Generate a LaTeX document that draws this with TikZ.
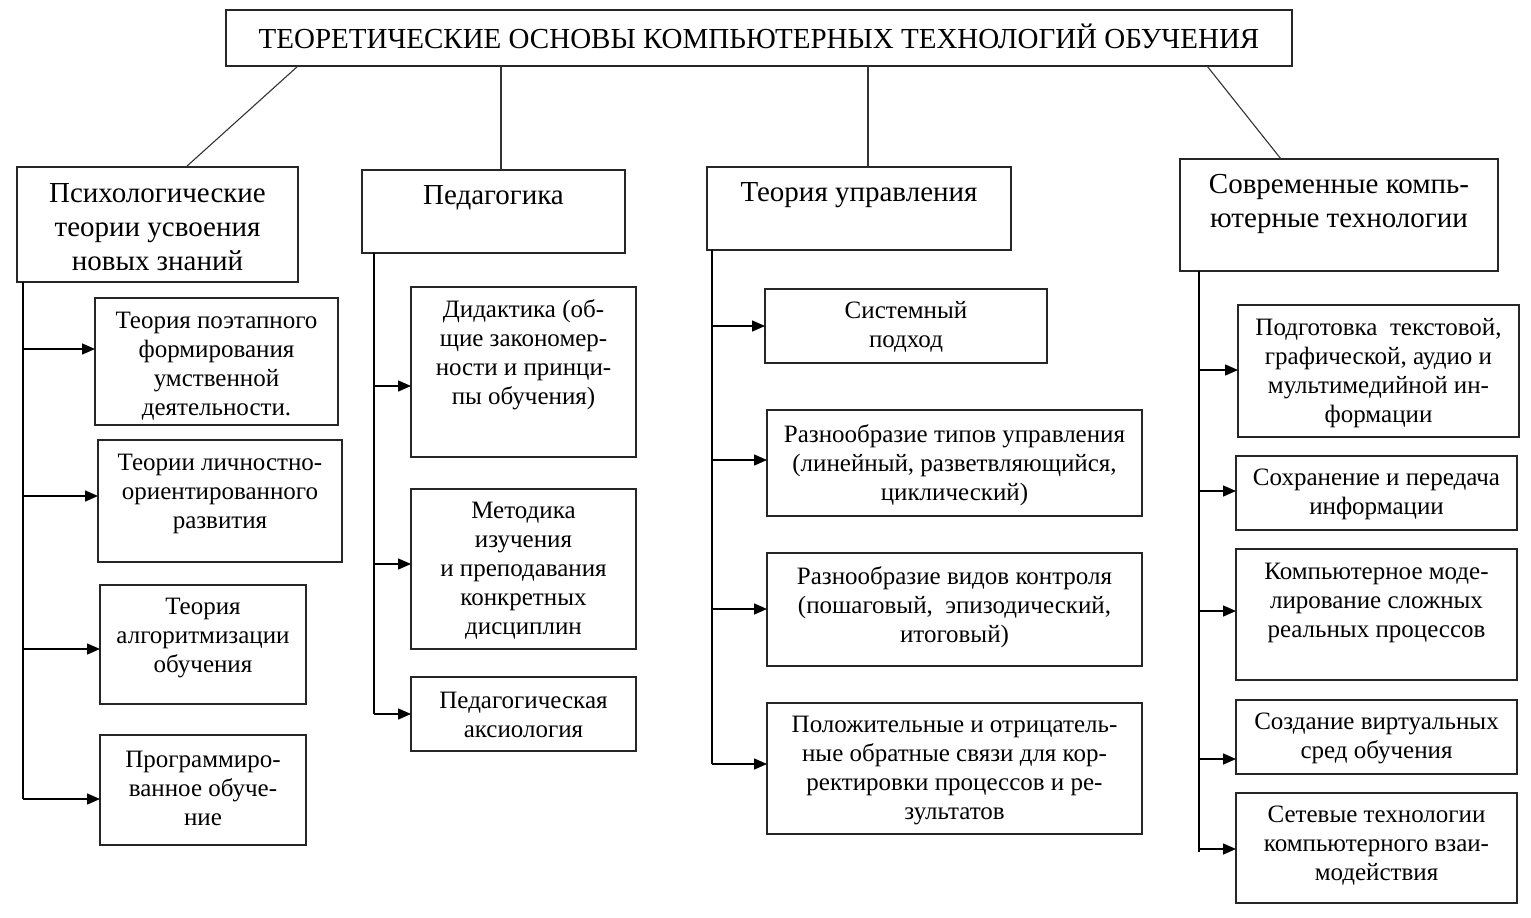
\documentclass[tikz,border=0pt]{standalone}
\usepackage{fontspec}
\setmainfont{Liberation Serif}
\usetikzlibrary{arrows.meta}
\newcommand\bxx[8]{%
  \node[boxst, minimum width={#5-#3}, minimum height={#6-#4}] (#2) at ({(#3+#5)/2},{(#4+#6)/2}) {};
  \node[#1] (#2t) at ({(#3+#5)/2},#7) {#8};}
\begin{document}
\begin{tikzpicture}[x=1pt,y=-1pt,
  boxst/.style={draw=black!85, line width=1.3pt, rectangle, inner sep=0pt, outer sep=0pt},
  txt/.style={align=center, inner sep=0pt, font=\fontsize{25}{29}\selectfont},
  htxt/.style={align=center, inner sep=0pt, font=\fontsize{29}{34}\selectfont},
  ttxt/.style={align=center, inner sep=0pt, font=\fontsize{29}{32}\selectfont},
  ln/.style={line width=1.1pt, black!80},
  trunk/.style={line width=1.4pt, black},
  arr/.style={line width=1.5pt, black, -{Triangle[length=13pt,width=11pt]}}]
\useasboundingbox (0,0) rectangle (1531,918);

% title
\bxx{ttxt}{title}{226}{10}{1292}{66}{36}{ТЕОРЕТИЧЕСКИЕ ОСНОВЫ КОМПЬЮТЕРНЫХ ТЕХНОЛОГИЙ ОБУЧЕНИЯ}

% headers
\bxx{htxt}{h1}{17}{167}{298}{282}{227}{Психологические\\теории усвоения\\новых знаний}
\bxx{htxt}{h2}{362}{170}{625}{253}{198}{Педагогика}
\bxx{htxt}{h3}{707}{167}{1011}{250}{195}{Теория управления}
\bxx{htxt}{h4}{1180}{159}{1498}{271}{204}{Современные компь-\\ютерные технологии}

% column 1
\bxx{txt}{c1a}{95}{298}{338}{425}{366}{Теория поэтапного\\формирования\\умственной\\деятельности.}
\bxx{txt}{c1b}{98}{440}{342}{562}{494}{Теории личностно-\\ориентированного\\развития}
\bxx{txt}{c1c}{100}{585}{306}{704}{638}{Теория\\алгоритмизации\\обучения}
\bxx{txt}{c1d}{100}{735}{306}{845}{788}{Программиро-\\ванное обуче-\\ние}

% column 2
\bxx{txt}{c2a}{411}{287}{636}{457}{355}{Дидактика (об-\\щие закономер-\\ности и принци-\\пы обучения)}
\bxx{txt}{c2b}{411}{489}{636}{649}{571}{Методика\\изучения\\и преподавания\\конкретных\\дисциплин}
\bxx{txt}{c2c}{411}{677}{636}{751}{715}{Педагогическая\\аксиология}

% column 3
\bxx{txt}{c3a}{765}{289}{1047}{363}{327}{Системный\\подход}
\bxx{txt}{c3b}{767}{410}{1142}{516}{465}{Разнообразие типов управления\\(линейный, разветвляющийся,\\циклический)}
\bxx{txt}{c3c}{767}{553}{1142}{666}{607}{Разнообразие видов контроля\\(пошаговый,\ \ эпизодический,\\итоговый)}
\bxx{txt}{c3d}{767}{703}{1142}{834}{771}{Положительные и отрицатель-\\ные обратные связи для кор-\\ректировки процессов и ре-\\зультатов}

% column 4
\bxx{txt}{c4a}{1238}{305}{1519}{437}{373}{Подготовка\ \ текстовой,\\графической, аудио и\\мультимедийной ин-\\формации}
\bxx{txt}{c4b}{1236}{456}{1517}{530}{494}{Сохранение и передача\\информации}
\bxx{txt}{c4c}{1236}{549}{1517}{680}{603}{Компьютерное моде-\\лирование сложных\\реальных процессов}
\bxx{txt}{c4d}{1236}{700}{1517}{774}{738}{Создание виртуальных\\сред обучения}
\bxx{txt}{c4e}{1236}{793}{1517}{903}{846}{Сетевые технологии\\компьютерного взаи-\\модействия}

% title to headers
\draw[ln] ([xshift=72pt]title.south west) -- ([xshift=169pt]h1.north west);
\draw[ln] (title.south -| 501,0) -- (h2.north -| 501,0);
\draw[ln] (title.south -| 868,0) -- (h3.north -| 868,0);
\draw[ln] ([xshift=-85pt]title.south east) -- ([xshift=101pt]h4.north west);

% trunks
\coordinate (tr1) at ([xshift=6pt]h1.south west);
\coordinate (tr2) at ([xshift=12pt]h2.south west);
\coordinate (tr3) at ([xshift=5pt]h3.south west);
\coordinate (tr4) at ([xshift=19pt]h4.south west);
\draw[trunk] (tr1) -- (tr1 |- 0,799);
\draw[trunk] (tr2) -- (tr2 |- 0,714);
\draw[trunk] (tr3) -- (tr3 |- 0,764);
\draw[trunk] (tr4) -- (tr4 |- 0,852);

% arrows
\draw[arr] (tr1 |- 0,349) -- (c1a.west |- 0,349);
\draw[arr] (tr1 |- 0,496) -- (c1b.west |- 0,496);
\draw[arr] (tr1 |- 0,649) -- (c1c.west |- 0,649);
\draw[arr] (tr1 |- 0,799) -- (c1d.west |- 0,799);
\draw[arr] (tr2 |- 0,386) -- (c2a.west |- 0,386);
\draw[arr] (tr2 |- 0,564) -- (c2b.west |- 0,564);
\draw[arr] (tr2 |- 0,714) -- (c2c.west |- 0,714);
\draw[arr] (tr3 |- 0,326) -- (c3a.west |- 0,326);
\draw[arr] (tr3 |- 0,460) -- (c3b.west |- 0,460);
\draw[arr] (tr3 |- 0,609) -- (c3c.west |- 0,609);
\draw[arr] (tr3 |- 0,764) -- (c3d.west |- 0,764);
\draw[arr] (tr4 |- 0,370) -- (c4a.west |- 0,370);
\draw[arr] (tr4 |- 0,491) -- (c4b.west |- 0,491);
\draw[arr] (tr4 |- 0,611) -- (c4c.west |- 0,611);
\draw[arr] (tr4 |- 0,759) -- (c4d.west |- 0,759);
\draw[arr] (tr4 |- 0,849) -- (c4e.west |- 0,849);
\end{tikzpicture}
\end{document}
